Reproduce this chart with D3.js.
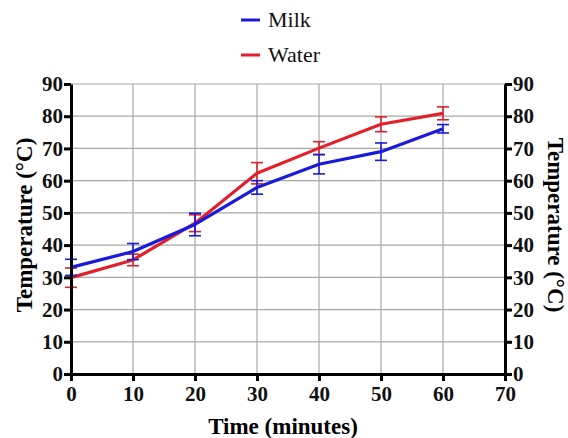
<!DOCTYPE html>
<html>
<head>
<meta charset="utf-8">
<script src="https://cdn.jsdelivr.net/npm/d3@7"></script>
<style>
  body { margin: 0; background: #fff; }
  text { font-family: "Liberation Serif", "Times New Roman", Times, "DejaVu Serif", serif; }
</style>
</head>
<body>
<svg id="chart" width="568" height="438" font-family="Liberation Serif, serif"></svg>
<script>
"use strict";

// time points (minutes)
let times = [0, 10, 20, 30, 40, 50, 60];

let milkMean = [33.1, 38.0, 46.4, 57.9, 65.1, 69.0, 76.1];
let milkErr  = [2.5, 2.5, 3.5, 2.1, 3.0, 2.7, 1.3];

let waterMean = [29.9, 35.4, 46.8, 62.3, 70.1, 77.5, 80.9];
let waterErr  = [3.0, 1.8, 2.6, 3.3, 2.0, 2.3, 2.0];

let xTicks = [0, 10, 20, 30, 40, 50, 60, 70];
let yTicks = [0, 10, 20, 30, 40, 50, 60, 70, 80, 90];

let seriesNames = ["Milk", "Water"];
let seriesColors = ["#1a1adb", "#e0202a"];

let serif = "'Liberation Serif', 'Times New Roman', 'DejaVu Serif', serif";

let svg = d3.select("#chart");

let margin = { left: 71, right: 63, top: 84, bottom: 64 };
let width = 568 - margin.left - margin.right;
let height = 438 - margin.top - margin.bottom;

let x = d3.scaleLinear().domain([0, 70]).range([0, width]);
let y = d3.scaleLinear().domain([0, 90]).range([height, 0]);

let g = svg.append("g")
    .attr("transform", "translate(" + margin.left + "," + margin.top + ")");

// grid
g.append("g").selectAll("line")
    .data(xTicks)
    .enter().append("line")
    .attr("x1", d => x(d)).attr("x2", d => x(d))
    .attr("y1", 0).attr("y2", height)
    .style("stroke", "#a8a8a8").style("stroke-width", 1.2);

g.append("g").selectAll("line")
    .data(yTicks)
    .enter().append("line")
    .attr("x1", 0).attr("x2", width)
    .attr("y1", d => y(d)).attr("y2", d => y(d))
    .style("stroke", "#a8a8a8").style("stroke-width", 1.2);

// series
let series = [
    { name: "Milk", mean: milkMean, err: milkErr, color: seriesColors[0] },
    { name: "Water", mean: waterMean, err: waterErr, color: seriesColors[1] }
];

let line = d3.line()
    .x(d => x(d.t))
    .y(d => y(d.v));

// water drawn first, milk over it
for (let s of [series[1], series[0]]) {
    let pts = times.map((t, i) => ({ t: t, v: s.mean[i], e: s.err[i] }));
    let sg = g.append("g");

    sg.append("path")
        .datum(pts)
        .attr("d", line)
        .style("fill", "none")
        .style("stroke", s.color)
        .style("stroke-width", 3.2)
        .style("stroke-linejoin", "round");

    let eb = sg.selectAll("g.err")
        .data(pts)
        .enter().append("g")
        .style("stroke", s.color)
        .style("stroke-width", 1.6);

    eb.append("line")
        .attr("x1", d => x(d.t)).attr("x2", d => x(d.t))
        .attr("y1", d => y(d.v - d.e)).attr("y2", d => y(d.v + d.e));
    eb.append("line")
        .attr("x1", d => x(d.t) - 6).attr("x2", d => x(d.t) + 6)
        .attr("y1", d => y(d.v + d.e)).attr("y2", d => y(d.v + d.e));
    eb.append("line")
        .attr("x1", d => x(d.t) - 6).attr("x2", d => x(d.t) + 6)
        .attr("y1", d => y(d.v - d.e)).attr("y2", d => y(d.v - d.e));
}

// axes
function styleAxis(sel) {
    sel.attr("font-family", serif).attr("font-size", 21);
    sel.select(".domain").style("stroke", "#000").style("stroke-width", 3);
    sel.selectAll(".tick line").style("stroke", "#000").style("stroke-width", 3);
    sel.selectAll(".tick text")
        .attr("font-family", serif)
        .style("font-family", serif)
        .style("font-weight", "bold")
        .style("font-size", "21px")
        .style("fill", "#111");
}

g.append("g")
    .call(d3.axisLeft(y).tickValues(yTicks).tickSize(7).tickSizeOuter(0).tickPadding(1))
    .call(styleAxis);

g.append("g")
    .attr("transform", "translate(" + width + ",0)")
    .call(d3.axisRight(y).tickValues(yTicks).tickSize(7).tickSizeOuter(0).tickPadding(1))
    .call(styleAxis);

g.append("g")
    .attr("transform", "translate(0," + height + ")")
    .call(d3.axisBottom(x).tickValues(xTicks).tickSize(7).tickSizeOuter(0).tickPadding(5))
    .call(styleAxis);

// axis titles
svg.append("text")
    .attr("transform", "translate(32,225) rotate(-90)")
    .attr("text-anchor", "middle")
    .style("font-family", serif)
    .style("font-weight", "bold")
    .style("font-size", "23px")
    .text("Temperature (°C)");

svg.append("text")
    .attr("transform", "translate(548,225) rotate(90)")
    .attr("text-anchor", "middle")
    .style("font-family", serif)
    .style("font-weight", "bold")
    .style("font-size", "23px")
    .text("Temperature (°C)");

svg.append("text")
    .attr("x", margin.left + width / 2 - 5)
    .attr("y", 434)
    .attr("text-anchor", "middle")
    .style("font-family", serif)
    .style("font-weight", "bold")
    .style("font-size", "23px")
    .text("Time (minutes)");

// legend
let legend = svg.append("g").attr("transform", "translate(241,20)");
let li = legend.selectAll("g")
    .data(seriesNames)
    .enter().append("g")
    .attr("transform", (d, i) => "translate(0," + i * 35 + ")");

li.append("line")
    .attr("x1", 0).attr("x2", 19)
    .style("stroke", (d, i) => seriesColors[i])
    .style("stroke-width", 3);

li.append("text")
    .attr("x", 27).attr("y", 7)
    .attr("font-family", serif)
    .style("font-family", serif)
    .style("font-size", "22px")
    .style("fill", "#111")
    .text(d => d);
</script>
</body>
</html>
